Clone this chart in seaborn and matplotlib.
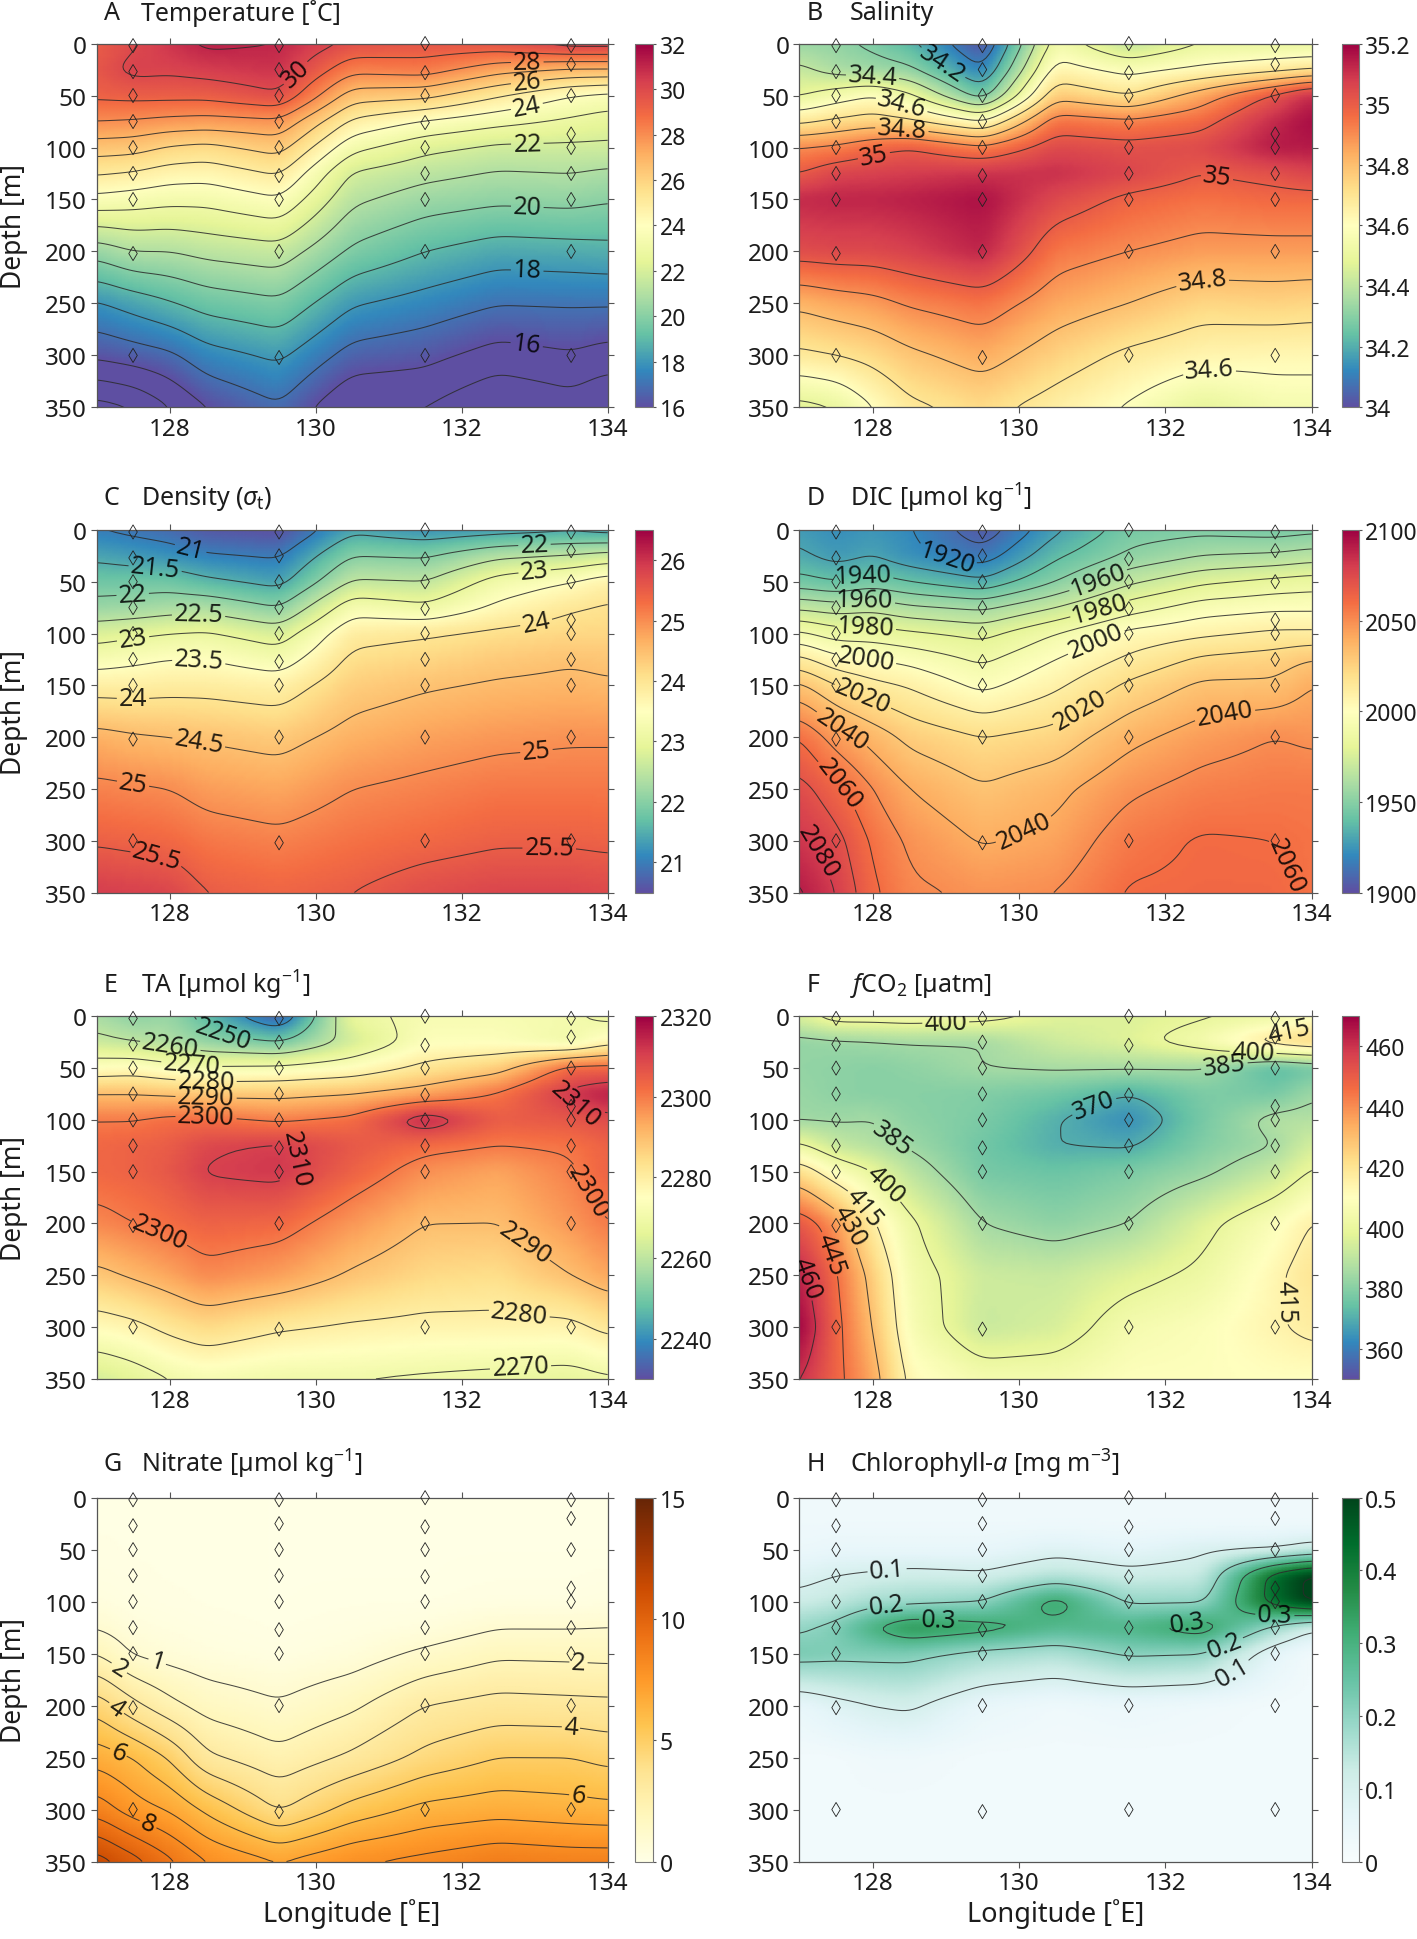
import numpy as np
import matplotlib
matplotlib.use("Agg")
import matplotlib.pyplot as plt
import seaborn as sns
import pandas as pd

sns.set_theme(style="ticks")
plt.rcParams['font.family'] = ['Noto Sans', 'DejaVu Sans']
plt.rcParams['mathtext.fontset'] = 'custom'
plt.rcParams['mathtext.rm'] = 'Noto Sans'
plt.rcParams['mathtext.it'] = 'Noto Sans:italic'
plt.rcParams['mathtext.default'] = 'regular'

lons = [127, 127.5, 128, 128.5, 129.5, 130.5, 131.5, 132.5, 133.5, 134]
depths = [0, 25, 50, 75, 100, 125, 150, 200, 250, 300, 350]

# one row per longitude, one value per depth
temperature = [
 [29.3,29.5,29.2,28.0,26.5,25.1,23.7,20.4,17.9,16.2,13.6],
 [29.9,30.3,29.3,27.9,26.4,24.9,23.5,21.0,18.4,16.5,14.0],
 [30.6,30.2,29.3,27.7,25.9,24.5,23.3,21.0,18.9,16.8,15.0],
 [31.2,30.4,29.3,27.6,25.7,24.4,23.3,21.3,19.4,17.6,16.0],
 [31.0,30.7,29.9,27.8,26.4,25.1,23.9,21.6,19.8,18.2,16.9],
 [29.8,28.3,26.5,24.8,23.3,21.9,21.2,19.8,18.1,16.6,15.0],
 [29.6,28.5,26.3,23.9,22.3,21.3,20.5,19.0,17.6,16.3,15.0],
 [29.7,27.4,25.1,23.3,21.8,20.9,20.2,18.5,17.05,15.6,13.9],
 [30.5,26.9,24.0,22.8,21.8,21.0,20.3,18.6,17.1,15.9,14.5],
 [30.5,26.9,23.7,22.5,21.8,20.8,20.1,18.7,17.1,15.6,13.9],
]
salinity = [
 [34.33,34.42,34.49,34.68,34.90,35.00,35.12,35.04,34.82,34.68,34.47],
 [34.32,34.36,34.55,34.72,34.92,35.06,35.13,35.05,34.85,34.70,34.50],
 [34.28,34.34,34.60,34.75,34.97,35.07,35.13,35.05,34.87,34.73,34.60],
 [34.22,34.32,34.52,34.72,35.00,35.08,35.14,35.07,34.91,34.78,34.68],
 [34.00,34.10,34.25,34.60,34.92,35.10,35.17,35.13,34.95,34.84,34.73],
 [34.55,34.64,34.77,34.95,35.05,35.11,35.05,34.94,34.85,34.75,34.66],
 [34.40,34.57,34.70,34.92,35.03,35.06,34.98,34.90,34.80,34.68,34.59],
 [34.50,34.62,34.85,34.97,35.05,35.00,34.95,34.87,34.74,34.64,34.49],
 [34.50,34.67,35.02,35.12,35.15,35.03,34.97,34.87,34.75,34.63,34.55],
 [34.50,34.70,35.12,35.18,35.15,35.06,34.97,34.87,34.74,34.63,34.55],
]
density = [
 [21.0,21.4,21.8,22.15,22.8,23.3,23.8,24.65,25.1,25.45,25.9],
 [20.9,21.3,21.8,22.2,22.9,23.4,23.8,24.55,25.05,25.4,25.85],
 [20.8,21.2,21.8,22.3,23.0,23.5,23.85,24.5,25.0,25.35,25.8],
 [20.6,21.05,21.6,22.35,23.05,23.5,23.85,24.45,24.85,25.2,25.5],
 [20.5,20.95,21.35,22.0,22.75,23.25,23.75,24.35,24.75,25.1,25.4],
 [21.4,22.0,22.55,23.3,23.85,24.1,24.3,24.65,25.0,25.25,25.5],
 [21.2,21.95,22.5,23.1,23.95,24.2,24.45,24.8,25.1,25.35,25.7],
 [21.3,22.4,23.2,23.6,24.1,24.35,24.55,24.9,25.2,25.45,25.8],
 [21.4,22.55,23.5,23.95,24.2,24.45,24.6,24.95,25.2,25.45,25.8],
 [21.3,22.7,23.75,24.05,24.2,24.4,24.55,24.95,25.2,25.42,25.75],
]
dic = [
 [1927,1932,1944,1968,1992,2013,2032,2060,2074,2083,2092],
 [1922,1926,1940,1965,1985,2003,2020,2045,2063,2074,2080],
 [1925,1930,1945,1967,1985,2000,2013,2036,2050,2058,2062],
 [1921,1923,1940,1962,1982,1997,2009,2027,2040,2048,2052],
 [1903,1914,1932,1958,1977,1988,1997,2020,2031,2039,2048],
 [1928,1938,1950,1970,1990,2000,2008,2024,2037,2043,2050],
 [1945,1952,1968,1985,2003,2012,2022,2037,2048,2056,2061],
 [1947,1960,1978,1995,2008,2022,2032,2045,2054,2061,2062],
 [1945,1962,1983,1998,2012,2025,2032,2050,2056,2060,2062],
 [1947,1965,1985,1998,2012,2030,2040,2048,2056,2058,2058],
]
alkalinity = [
 [2257,2262,2275,2290,2300,2303,2303,2298,2288,2276,2263],
 [2253,2260,2276,2290,2300,2304,2304,2300,2291,2278,2266],
 [2255,2258,2273,2289,2302,2305,2306,2302,2294,2282,2270],
 [2247,2254,2271,2288,2302,2309,2310.5,2304,2298,2285,2272],
 [2232,2250,2272,2288,2299,2311,2312,2303,2295,2281,2270],
 [2268,2263,2275,2290,2302,2306,2304,2296,2289,2279,2270],
 [2272,2274,2282,2294,2315,2302,2297,2290,2285,2278,2269],
 [2272,2274,2287,2301,2305,2300,2294,2290,2284,2278,2268],
 [2271,2270,2303,2312,2306,2301,2299,2296,2290,2278,2267],
 [2268,2277,2303,2316,2308,2304,2304,2300,2294,2282,2269],
]
fco2 = [
 [396,382,382,383,384,402,422,452,464,470,461],
 [405,383,381,381,384,392,408,438,446,448,448],
 [405,384,380,380,385,388,400,416,426,430,435],
 [406,385,381,380,381,384,390,402,405,407,412],
 [404,385,385,379,378,376,377,385,393,392,405],
 [397,393,386,376,370.5,370,375,381,392,395,405],
 [396,397,386,370,363,369,378,385,397,405,409],
 [399,405,385,378,377,379,383,397,402,408,409],
 [402,421,372,377,388,385,392,408,413,414,410],
 [408,425,376,384,388,395,401,415.5,420,417,410],
]
nitrate = [
 [0.1,0.1,0.15,0.2,0.4,0.95,2.0,4.6,6.6,8.6,11.5],
 [0.1,0.1,0.1,0.15,0.2,0.45,0.9,3.3,6.0,7.5,10.4],
 [0.1,0.1,0.1,0.1,0.15,0.3,0.6,2.3,4.9,6.9,9.2],
 [0.1,0.1,0.1,0.1,0.1,0.2,0.4,1.6,3.2,5.8,8.0],
 [0.05,0.05,0.05,0.05,0.05,0.1,0.2,1.1,2.3,3.9,7.0],
 [0.05,0.05,0.05,0.05,0.1,0.2,0.5,1.8,3.2,5.4,7.9],
 [0.05,0.05,0.05,0.05,0.1,0.4,1.2,3.0,4.3,6.3,8.3],
 [0.05,0.05,0.05,0.1,0.2,0.95,1.8,3.4,5.0,6.6,8.8],
 [0.05,0.05,0.05,0.1,0.2,0.95,1.75,3.3,5.0,6.4,8.6],
 [0.05,0.05,0.05,0.15,0.3,1.0,1.7,3.25,4.7,6.3,8.6],
]
chlorophyll = [
 [0.03,0.03,0.04,0.08,0.12,0.19,0.23,0.05,0.02,0.02,0.02],
 [0.03,0.03,0.05,0.10,0.14,0.22,0.22,0.08,0.02,0.02,0.02],
 [0.03,0.03,0.05,0.11,0.17,0.30,0.22,0.10,0.03,0.02,0.02],
 [0.03,0.03,0.05,0.12,0.18,0.36,0.22,0.11,0.03,0.02,0.02],
 [0.03,0.03,0.05,0.11,0.20,0.33,0.18,0.05,0.02,0.02,0.02],
 [0.03,0.03,0.08,0.15,0.33,0.28,0.16,0.03,0.02,0.02,0.02],
 [0.03,0.03,0.06,0.12,0.19,0.29,0.21,0.04,0.02,0.02,0.02],
 [0.03,0.03,0.09,0.13,0.19,0.34,0.20,0.03,0.02,0.02,0.02],
 [0.03,0.03,0.10,0.44,0.44,0.18,0.06,0.02,0.02,0.02,0.02],
 [0.03,0.03,0.13,0.52,0.52,0.11,0.02,0.02,0.02,0.02,0.02],
]

station_lon = [127.5]*9 + [129.5]*9 + [131.5]*9 + [133.5]*9
station_depth = [2,27,50,75,100,125,150,202,300,
                 2,25,50,75,100,127,150,200,302,
                 0,28,50,76,100,125,150,200,300,
                 2,20,50,87,100,125,150,200,300]

spectral = sns.color_palette("Spectral_r", as_cmap=True)
ylorbr = sns.color_palette("YlOrBr", as_cmap=True)
bugn = sns.color_palette("BuGn", as_cmap=True)

W, H = 1417, 1940
S = 1417 / 1145
fig = plt.figure(figsize=(W/100, H/100), dpi=100)

panels = [
 dict(letter="A", title="Temperature [˚C]", data=temperature, cmap=spectral, vmin=16, vmax=32,
      ticks=list(range(16,33,2)), levels=list(range(13,32)), col=0, row=0,
      labels=[(132.9,20),(132.9,39),(132.9,63),(132.9,95),(132.9,157),(132.9,215),(132.9,285),(129.75,30)],
      labvals=[28,26,24,22,20,18,16,30]),
 dict(letter="B", title="Salinity", data=salinity, cmap=spectral, vmin=34, vmax=35.2,
      ticks=[34,34.2,34.4,34.6,34.8,35,35.2], levels=[round(34.1+0.1*i,1) for i in range(10)], col=1, row=0,
      labels=[(129,15),(128,30),(128.4,58),(128.4,82),(128,102),(132.7,130),(132.5,225),(132.6,315)],
      labvals=[34.2,34.4,34.6,34.8,35.0,35.0,34.8,34.6]),
 dict(letter="C", title=r"Density ($\mathit{\sigma}_t$)", data=density, cmap=spectral, vmin=20.5, vmax=26.5,
      ticks=[21,22,23,24,25,26], levels=[21+0.5*i for i in range(11)], col=0, row=1,
      labels=[(128.3,15),(127.8,40),(127.5,68),(128.4,87),(127.5,105),(128.4,128),(127.5,160),(128.4,205),(127.5,245),(127.8,325),(133,18),(133,40),(133,82),(133,195),(133.2,310)],
      labvals=[21,21.5,22,22.5,23,23.5,24,24.5,25,25.5,22,23,24,25,25.5]),
 dict(letter="D", title=r"DIC [µmol kg$^{-1}$]", data=dic, cmap=spectral, vmin=1900, vmax=2100,
      ticks=[1900,1950,2000,2050,2100], levels=list(range(1910,2100,10)), col=1, row=1,
      labels=[(129,30),(127.9,58),(127.9,80),(127.9,103),(127.9,128),(127.9,155),(127.7,178),(127.7,235),(127.4,305),(131.1,52),(131.1,75),(131,100),(130.8,170),(132.8,172),(130.1,295),(133.6,325)],
      labvals=[1920,1940,1960,1980,2000,2020,2040,2060,2080,1960,1980,2000,2020,2040,2040,2060]),
 dict(letter="E", title=r"TA [µmol kg$^{-1}$]", data=alkalinity, cmap=spectral, vmin=2230, vmax=2320,
      ticks=[2240,2260,2280,2300,2320], levels=list(range(2240,2320,10)), col=0, row=2,
      labels=[(128.7,25),(128,33),(128.3,50),(128.5,65),(128.5,78),(128.5,97),(129.7,138),(133.6,78),(133.7,170),(127.8,220),(132.9,215),(132.8,282),(132.8,330)],
      labvals=[2250,2260,2270,2280,2290,2300,2310,2310,2300,2300,2290,2280,2270]),
 dict(letter="F", title=r"$\mathit{f}$CO$_2$ [µatm]", data=fco2, cmap=spectral, vmin=350, vmax=470,
      ticks=[360,380,400,420,440,460], levels=[370,385,400,415,430,445,460], col=1, row=2,
      labels=[(129,8),(133.7,20),(133.2,30),(132.8,45),(131,82),(128.3,115),(128.2,160),(128,178),(127.8,198),(127.6,225),(127.2,250),(133.6,275)],
      labvals=[400,415,400,385,370,385,400,415,430,445,460,415]),
 dict(letter="G", title=r"Nitrate [µmol kg$^{-1}$]", data=nitrate, cmap=ylorbr, vmin=0, vmax=15,
      ticks=[0,5,10,15], levels=list(range(1,15)), col=0, row=3,
      labels=[(127.8,165),(127.3,165),(127.3,200),(127.3,245),(127.7,315),(133.6,160),(133.5,218),(133.6,285)],
      labvals=[1,2,4,6,8,2,4,6]),
 dict(letter="H", title=r"Chlorophyll-$\mathit{a}$ [mg m$^{-3}$]", data=chlorophyll, cmap=bugn, vmin=0, vmax=0.5,
      ticks=[0,0.1,0.2,0.3,0.4,0.5], levels=[0.1,0.2,0.3,0.4,0.5], col=1, row=3,
      labels=[(128.2,72),(128.2,110),(128.9,120),(132.3,122),(132.8,140),(132.9,165),(133.5,100)],
      labvals=[0.1,0.2,0.3,0.3,0.2,0.1,0.3]),
]

# Rendering grid: the read values above are only resampled here for a soft field
fine_lon = np.arange(127, 134.001, 0.05)
fine_dep = np.arange(0, 350.01, 2.5)


def soft(values):
    grid = np.array([np.interp(fine_dep, depths, col) for col in values]).T
    grid = np.array([np.interp(fine_lon, lons, row) for row in grid])
    for axis, n in ((1, 11), (0, 9)):
        w = np.hanning(n + 2)[1:-1]
        w = w / w.sum()
        pad = n // 2
        widths = [(0, 0), (0, 0)]
        widths[axis] = (pad, pad)
        padded = np.pad(grid, widths, mode="edge")
        grid = np.apply_along_axis(lambda v: np.convolve(v, w, mode="valid"), axis, padded)
    return grid


col_x = [(78, 491, 513, 528, 84, 114), (646, 1060, 1084, 1098, 652, 687)]
row_y = [(36, 330, 11), (429, 722, 403), (822, 1115, 796), (1211, 1505, 1183)]
edge = "#555555"
txt = "#1c1c1c"
stations = pd.DataFrame({"lon": station_lon, "depth": station_depth})

for p in panels:
    x0, x1, cx0, cx1, lx, tx = col_x[p["col"]]
    y0, y1, ty = row_y[p["row"]]
    ax = fig.add_axes([x0*S/W, 1-y1*S/H, (x1-x0)*S/W, (y1-y0)*S/H])
    ax.set_xlim(127, 134)
    ax.set_ylim(350, 0)
    Z = soft(p["data"])
    mesh = ax.pcolormesh(fine_lon, fine_dep, Z, shading="gouraud", cmap=p["cmap"],
                         vmin=p["vmin"], vmax=p["vmax"], rasterized=True)
    for lev in p["levels"]:
        if not (Z.min() < lev < Z.max()):
            continue
        cs = ax.contour(fine_lon, fine_dep, Z, levels=[lev], colors="#2b2b2b",
                        linewidths=0.75, alpha=0.85)
        spots = [pos for v, pos in zip(p["labvals"], p["labels"]) if abs(v - lev) < 1e-6]
        if spots:
            ax.clabel(cs, manual=spots, fmt="%g", fontsize=18,
                      colors="black", inline=True, inline_spacing=2)
    sns.scatterplot(data=stations, x="lon", y="depth", ax=ax, marker="d", s=52,
                    facecolor="none", edgecolor="#222222", linewidth=0.6,
                    legend=False, clip_on=False, zorder=5)
    ax.set_xlim(127, 134)
    ax.set_ylim(350, 0)
    ax.set_xticks([128, 130, 132, 134])
    ax.set_yticks(list(range(0, 351, 50)))
    ax.tick_params(axis="both", which="major", labelsize=17.5, length=4, width=0.8,
                   color=edge, top=True, right=True, pad=3, labelcolor=txt)
    for sp in ax.spines.values():
        sp.set_color(edge)
        sp.set_linewidth(0.9)
    ax.set_xlabel("Longitude [˚E]" if p["row"] == 3 else "", fontsize=19.5, color=txt, labelpad=2)
    ax.set_ylabel("Depth [m]" if p["col"] == 0 else "", fontsize=19, color=txt)
    ax.yaxis.set_label_coords(-0.135, 0.5)

    cax = fig.add_axes([cx0*S/W, 1-y1*S/H, (cx1-cx0)*S/W, (y1-y0)*S/H])
    cb = fig.colorbar(mesh, cax=cax, ticks=p["ticks"], format="%g")
    cb.ax.tick_params(labelsize=16.5, length=2.5, width=0.8, color=edge, pad=2, labelcolor=txt)
    cb.outline.set_edgecolor("#777777")
    cb.outline.set_linewidth(0.8)

    fig.text(lx*S/W, 1-ty*S/H, p["letter"], fontsize=18, color=txt, va="center", ha="left")
    fig.text(tx*S/W, 1-ty*S/H, p["title"], fontsize=18, color=txt, va="center", ha="left")

fig.savefig("out.png", dpi=100, facecolor="white")
